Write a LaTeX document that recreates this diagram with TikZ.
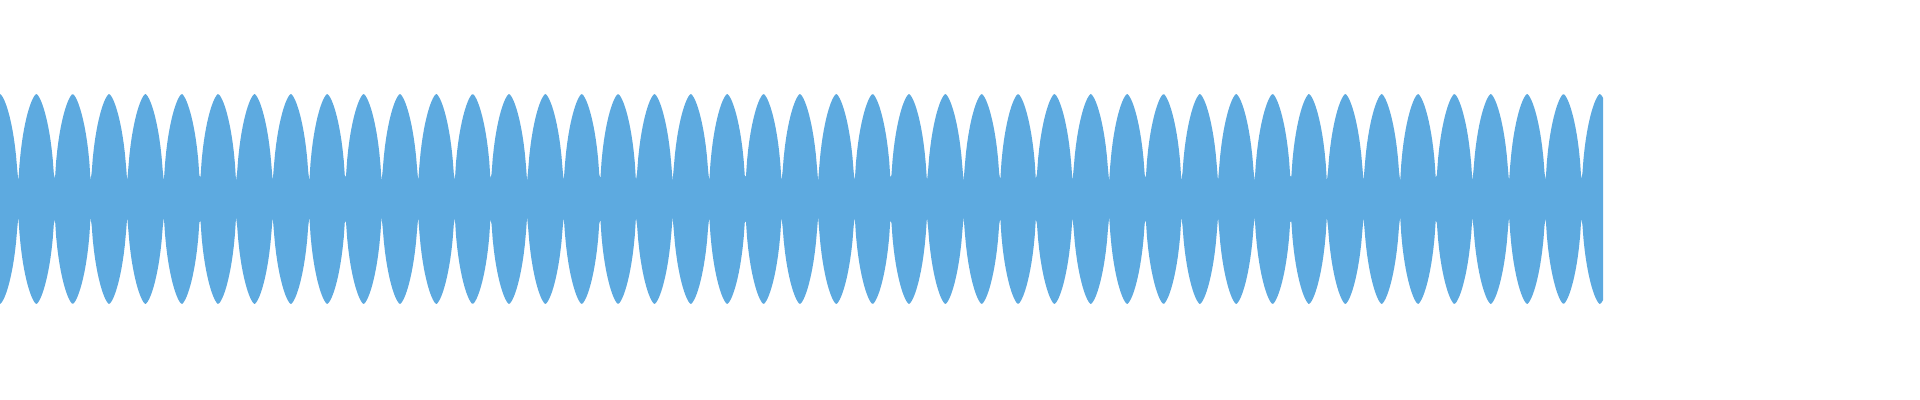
\documentclass[tikz,border=0pt]{standalone}
\definecolor{wave}{HTML}{5DAAE0}
\begin{document}
\begin{tikzpicture}[x=0.5pt,y=-0.5pt,
  declare function={dd(\t)=min(mod(\t,36.36),36.36-mod(\t,36.36))/18.18;
    env(\t)=max(18,105*sqrt(max(0,1-dd(\t)^1.5)));}]
\useasboundingbox (0,0) rectangle (1920,400);
\fill[wave] plot[domain=0:1603,samples=1400] (\x,{199-env(\x)})
  -- plot[domain=1603:0,samples=1400] (\x,{199+env(\x)}) -- cycle;
\end{tikzpicture}
\end{document}
